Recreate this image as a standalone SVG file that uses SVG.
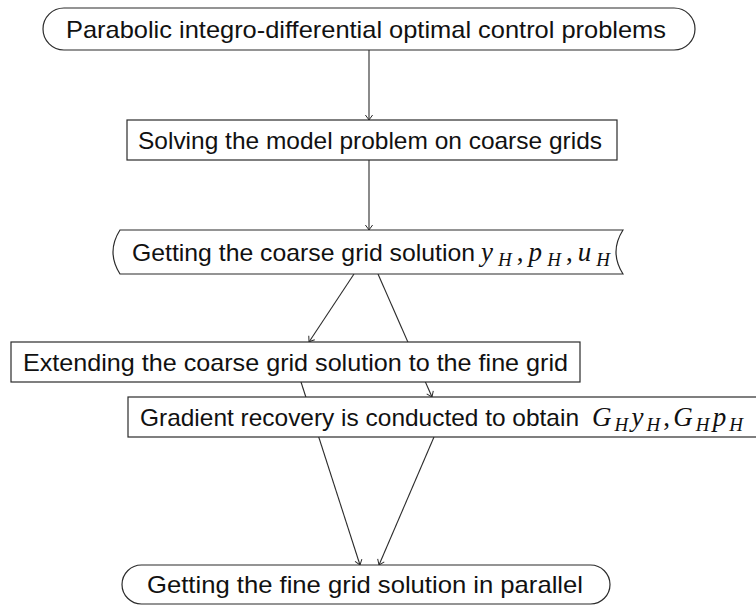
<svg xmlns="http://www.w3.org/2000/svg" width="756" height="606" viewBox="0 0 756 606">
  <style>
    .box { fill: #ffffff; stroke: #2b2b2b; stroke-width: 1.2; }
    .lbl { font-family: "Liberation Sans", Arial, sans-serif; font-size: 24px; fill: #111; }
    .math { font-family: "Liberation Serif", "Times New Roman", serif; font-style: italic; font-size: 27px; fill: #111; }
    .sub { font-size: 19px; }
    .up { font-style: normal; }
    .edge { fill: none; stroke: #2b2b2b; stroke-width: 1.1; marker-end: url(#to); }
  </style>
  <defs>
    <marker id="to" viewBox="-6 -5 8 10" markerWidth="8" markerHeight="10" refX="0" refY="0" orient="auto" markerUnits="userSpaceOnUse">
      <path d="M -5,-3.6 Q -1.2,-0.8 0,0 Q -1.2,0.8 -5,3.6" fill="none" stroke="#2b2b2b" stroke-width="1"/>
    </marker>
  </defs>

  <rect width="756" height="606" fill="#ffffff"/>

  <g id="edges">
    <line class="edge" x1="369" y1="50" x2="369" y2="120"/>
    <line class="edge" x1="369" y1="160" x2="369" y2="230"/>
    <line class="edge" x1="354" y1="274" x2="309" y2="342"/>
    <line class="edge" x1="378" y1="274" x2="432" y2="397"/>
    <line class="edge" x1="301" y1="382" x2="360" y2="565"/>
    <line class="edge" x1="434" y1="437" x2="379" y2="565"/>
  </g>

  <g id="problem">
    <rect class="box" x="43" y="8" width="652" height="42" rx="21"/>
    <text class="lbl" x="66" y="38" textLength="600" lengthAdjust="spacingAndGlyphs">Parabolic integro-differential optimal control problems</text>
  </g>

  <g id="coarse-solve">
    <rect class="box" x="127" y="120" width="490" height="40"/>
    <text class="lbl" x="138" y="149" textLength="464" lengthAdjust="spacingAndGlyphs">Solving the model problem on coarse grids</text>
  </g>

  <g id="coarse-solution">
    <path class="box" d="M 120,230 L 623,230 Q 609,252 623,274 L 120,274 Q 106,252 120,230 Z"/>
    <text class="lbl" x="132" y="261" textLength="343" lengthAdjust="spacingAndGlyphs">Getting the coarse grid solution</text>
    <text class="math" x="481" y="261" textLength="129" lengthAdjust="spacing">y<tspan class="sub" dy="5">H</tspan><tspan class="up" dy="-5">,</tspan>p<tspan class="sub" dy="5">H</tspan><tspan class="up" dy="-5">,</tspan>u<tspan class="sub" dy="5">H</tspan></text>
  </g>

  <g id="extend">
    <rect class="box" x="11" y="342" width="569" height="40"/>
    <text class="lbl" x="23" y="371" textLength="545" lengthAdjust="spacingAndGlyphs">Extending the coarse grid solution to the fine grid</text>
  </g>

  <g id="recovery">
    <rect class="box" x="128" y="397" width="640" height="40"/>
    <text class="lbl" x="140" y="426" textLength="439" lengthAdjust="spacingAndGlyphs">Gradient recovery is conducted to obtain</text>
    <text class="math" x="592" y="426" textLength="151" lengthAdjust="spacing">G<tspan class="sub" dy="5">H</tspan><tspan dy="-5">y</tspan><tspan class="sub" dy="5">H</tspan><tspan class="up" dy="-5">,</tspan>G<tspan class="sub" dy="5">H</tspan><tspan dy="-5">p</tspan><tspan class="sub" dy="5">H</tspan></text>
  </g>

  <g id="fine-solution">
    <rect class="box" x="122" y="565" width="488" height="39" rx="19.5"/>
    <text class="lbl" x="147" y="593" textLength="436" lengthAdjust="spacingAndGlyphs">Getting the fine grid solution in parallel</text>
  </g>
</svg>
